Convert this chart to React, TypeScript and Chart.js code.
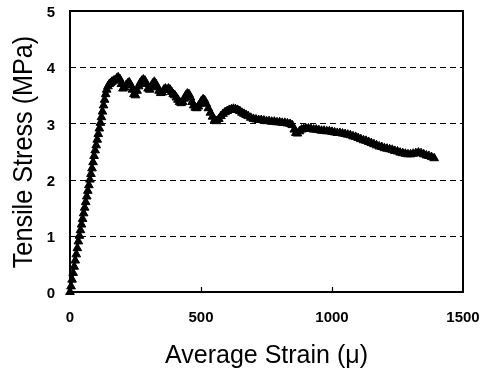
import React, { useEffect, useRef } from "react";
import { Chart, registerables } from "chart.js";

Chart.register(...registerables);

// Average strain (µ) at each recorded step
const strain: number[] = [
  0, 4, 8, 12, 16, 20, 24, 28, 32, 36, 40, 44, 48, 52, 56, 60, 64, 68, 72, 76,
  80, 84, 88, 92, 96, 100, 104, 108, 112, 116, 120, 124, 128, 132, 136, 140, 145, 150,
  155, 160, 166, 172, 178, 184, 190, 196, 202, 208, 214, 220, 226, 232, 238, 244, 250,
  256, 262, 268, 274, 280, 286, 292, 298, 304, 310, 316, 322, 328, 334, 340, 346, 352,
  358, 364, 370, 376, 382, 388, 394, 400, 406, 412, 418, 424, 430, 436, 442, 448, 454,
  460, 466, 472, 478, 484, 490, 496, 502, 508, 514, 520, 528, 536, 544, 552, 560, 568,
  576, 584, 592, 600, 608, 616, 624, 632, 640, 648, 656, 664, 672, 680, 690, 700, 710,
  720, 730, 740, 750, 760, 770, 780, 790, 800, 810, 820, 830, 840, 848, 856, 862, 868,
  876, 884, 892, 900, 910, 920, 930, 940, 950, 960, 970, 980, 990, 1000, 1010, 1020,
  1030, 1040, 1050, 1060, 1070, 1080, 1090, 1100, 1110, 1120, 1130, 1140, 1150, 1160,
  1170, 1180, 1190, 1200, 1210, 1220, 1230, 1240, 1250, 1260, 1270, 1280, 1290, 1300,
  1310, 1320, 1330, 1340, 1350, 1360, 1370, 1380, 1390,
];

// Tensile stress (MPa) at each step
const stress: number[] = [
  0.0, 0.1, 0.22, 0.34, 0.45, 0.56, 0.67, 0.78, 0.9, 1.0, 1.1, 1.2, 1.3, 1.4, 1.5, 1.6,
  1.7, 1.8, 1.9, 2.0, 2.1, 2.2, 2.31, 2.42, 2.52, 2.61, 2.71, 2.81, 2.91, 3.01, 3.11,
  3.21, 3.32, 3.42, 3.52, 3.6, 3.66, 3.7,
  3.72, 3.74, 3.76, 3.77, 3.8, 3.82, 3.79, 3.7, 3.62, 3.64, 3.68, 3.71, 3.73, 3.68,
  3.6, 3.52, 3.5, 3.58, 3.66, 3.72, 3.76, 3.78, 3.76, 3.7, 3.62, 3.6, 3.66, 3.71, 3.74,
  3.7, 3.64, 3.58, 3.54, 3.55, 3.6, 3.62, 3.6, 3.62, 3.6, 3.56, 3.52, 3.5, 3.46, 3.42,
  3.38, 3.36, 3.38, 3.44, 3.5, 3.53, 3.52, 3.46, 3.38, 3.32, 3.28, 3.27, 3.3, 3.35,
  3.4, 3.43, 3.41, 3.35, 3.27, 3.19, 3.12, 3.06, 3.04, 3.08, 3.13, 3.17, 3.2, 3.22,
  3.24, 3.25, 3.26, 3.25, 3.24, 3.22, 3.19, 3.17, 3.15, 3.13, 3.1, 3.08, 3.07, 3.06,
  3.06, 3.05, 3.04, 3.04, 3.03, 3.03, 3.02, 3.02, 3.01, 3.01, 3.0, 2.99, 2.97, 2.89,
  2.83, 2.82, 2.86, 2.89, 2.9, 2.91, 2.91, 2.9, 2.89, 2.89, 2.88, 2.87, 2.87, 2.86,
  2.86, 2.85, 2.84, 2.83, 2.83, 2.82, 2.81, 2.8, 2.79, 2.77, 2.76, 2.74, 2.72, 2.7,
  2.69, 2.67, 2.65, 2.63, 2.61, 2.59, 2.58, 2.56, 2.55, 2.54, 2.53, 2.51, 2.5, 2.48,
  2.47, 2.46, 2.45, 2.45, 2.46, 2.47, 2.48, 2.47, 2.45, 2.43, 2.42, 2.4, 2.38,
];

const xTicks: number[] = [0, 500, 1000, 1500];
const yTicks: number[] = [0, 1, 2, 3, 4, 5];
const gridLevels: number[] = [1, 2, 3, 4];

const xTitle = "Average Strain (\u03bc)";
const yTitle = "Tensile Stress (MPa)";

const FONT = "'Liberation Sans', Arial, Helvetica, sans-serif";

// Dashed reference lines, the boxed frame, inward tick marks and axis titles
const framePlugin = {
  id: "frameAndTitles",
  beforeDatasetsDraw(chart: any) {
    const { ctx, chartArea: a, scales } = chart;
    const x = scales.x;
    const y = scales.y;
    ctx.save();
    ctx.strokeStyle = "#000";
    ctx.lineWidth = 1.2;
    ctx.setLineDash([6, 4]);
    for (const v of gridLevels) {
      const py = Math.round(y.getPixelForValue(v)) + 0.5;
      ctx.beginPath();
      ctx.moveTo(a.left, py);
      ctx.lineTo(a.right, py);
      ctx.stroke();
    }
    ctx.setLineDash([]);
    ctx.lineWidth = 2;
    ctx.strokeRect(a.left, a.top, a.right - a.left, a.bottom - a.top);
    ctx.lineWidth = 1.2;
    for (const v of xTicks.slice(1, -1)) {
      const px = Math.round(x.getPixelForValue(v)) + 0.5;
      ctx.beginPath();
      ctx.moveTo(px, a.bottom);
      ctx.lineTo(px, a.bottom - 5);
      ctx.stroke();
    }
    ctx.restore();
  },
  afterDraw(chart: any) {
    const { ctx, chartArea: a } = chart;
    ctx.save();
    ctx.fillStyle = "#000";
    ctx.font = `25px ${FONT}`;
    ctx.textAlign = "center";
    ctx.textBaseline = "alphabetic";
    ctx.fillText(xTitle, (a.left + a.right) / 2, 363);

    ctx.translate(32, 152);
    ctx.rotate(-Math.PI / 2);
    ctx.scale(0.9, 1);
    ctx.font = `28px ${FONT}`;
    ctx.fillText(yTitle, 0, 0);
    ctx.restore();
  },
};

export default function App() {
  const canvasRef = useRef<HTMLCanvasElement | null>(null);

  useEffect(() => {
    const canvas = canvasRef.current;
    if (!canvas) return;
    const points = strain.map((s, i) => ({ x: s, y: stress[i] }));

    const chart = new Chart(canvas, {
      type: "scatter",
      data: {
        datasets: [
          {
            data: points,
            showLine: true,
            borderColor: "#000",
            borderWidth: 2,
            pointStyle: "triangle",
            pointRadius: 5,
            pointBackgroundColor: "#000",
            pointBorderColor: "#000",
            pointBorderWidth: 1,
            clip: false as any,
          },
        ],
      },
      options: {
        responsive: false,
        animation: false,
        layout: { padding: { top: 11, right: 21, left: 0, bottom: 0 } },
        plugins: {
          legend: { display: false },
          tooltip: { enabled: false },
        },
        scales: {
          x: {
            type: "linear",
            min: 0,
            max: 1500,
            afterBuildTicks: (scale: any) => {
              scale.ticks = xTicks.map((v) => ({ value: v }));
            },
            afterFit: (scale: any) => {
              scale.height = 79;
              scale.paddingLeft = 0;
              scale.paddingRight = 0;
            },
            grid: { display: false, drawTicks: false },
            border: { display: false },
            ticks: {
              color: "#000",
              padding: 17,
              callback: (v: any) => String(v),
              font: { family: FONT, size: 15, weight: "bold" },
            },
          },
          y: {
            type: "linear",
            min: 0,
            max: 5,
            afterBuildTicks: (scale: any) => {
              scale.ticks = yTicks.map((v) => ({ value: v }));
            },
            afterFit: (scale: any) => {
              scale.width = 70;
              scale.paddingTop = 0;
              scale.paddingBottom = 0;
            },
            grid: { display: false, drawTicks: false },
            border: { display: false },
            ticks: {
              color: "#000",
              padding: 15,
              labelOffset: 2,
              callback: (v: any) => String(v),
              font: { family: FONT, size: 15, weight: "bold" },
            },
          },
        },
      },
      plugins: [framePlugin],
    });

    return () => chart.destroy();
  }, []);

  return (
    <canvas
      ref={canvasRef}
      width={484}
      height={371}
      style={{ position: "absolute", left: 0, top: 0, width: 484, height: 371 }}
    />
  );
}
